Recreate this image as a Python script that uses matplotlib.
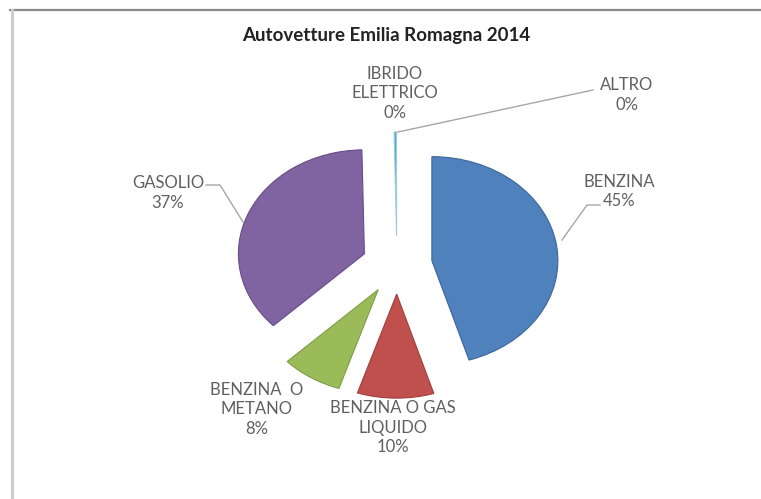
import matplotlib
matplotlib.use("Agg")
import matplotlib.pyplot as plt
from matplotlib.lines import Line2D

# dati
categorie = ["BENZINA", "BENZINA O GAS\nLIQUIDO", "BENZINA  O\nMETANO", "GASOLIO",
             "IBRIDO\nELETTRICO", "ALTRO"]
valori = [45.2, 9.8, 7.8, 36.8, 0.3, 0.02]
colori = ["#4F81BD", "#C0504D", "#9BBB59", "#8064A2", "#4BACC6", "#F79646"]
bordi = ["#3d6699", "#a03e3b", "#7f9c46", "#654e85", "#9ccbdc", "none"]

W, H = 761, 499
CX, CY, RX, RY = 397, 265, 126, 104   # centro e raggi in pixel (torta schiacciata)

# posizione etichette (pixel, centro prima riga) e linee guida
pos_etichette = [(619, 182), (393, 408), (257, 390), (168, 183), (395, 74), (627, 85)]
passo_riga = 19.5
linee_guida = [
    [(206, 185), (220, 185), (243, 222)],
    [(600, 205), (587, 205), (562, 240)],
    [(398, 132), (593, 90)],
]

FONT = "Lato"

fig = plt.figure(figsize=(W / 100, H / 100), dpi=100)
ax = fig.add_axes([0, 0, 1, 1])
ax.pie(valori, colors=colori, startangle=90, counterclock=False,
       explode=[0.28] * len(valori),
       wedgeprops=dict(linewidth=0.8))
for w, b in zip(ax.patches, bordi):
    w.set_edgecolor(b)
ax.patches[-1].set_visible(False)   # ALTRO: fetta invisibile
ax.set_aspect("auto")
ax.set_xlim((0 - CX) / RX, (W - CX) / RX)
ax.set_ylim((CY - H) / RY, CY / RY)
ax.axis("off")

def fx(x, y):
    return x / W, 1 - y / H

# titolo
fig.text(*fx(386, 35), "Autovetture Emilia Romagna 2014", ha="center", va="center",
         fontsize=13.5, fontweight="bold", family=FONT, color="#222222")

totale = sum(valori)
for nome, v, (x, y) in zip(categorie, valori, pos_etichette):
    righe = nome.split("\n") + [f"{round(v / totale * 100):.0f}%"]
    for i, r in enumerate(righe):
        fig.text(*fx(x, y + i * passo_riga), r, ha="center", va="center",
                 fontsize=12, family=FONT, color="#606060")

for pts in linee_guida:
    xs = [p[0] / W for p in pts]
    ys = [1 - p[1] / H for p in pts]
    fig.add_artist(Line2D(xs, ys, transform=fig.transFigure, color="#a6a6a6", lw=1))

# cornice
fig.add_artist(Line2D([10 / W, 1], [1 - 9.5 / H, 1 - 9.5 / H], transform=fig.transFigure,
                      color="#8c8c8c", lw=1.6))
fig.add_artist(Line2D([11.5 / W, 11.5 / W], [0, 1 - 9.5 / H], transform=fig.transFigure,
                      color="#cccccc", lw=2.2))

fig.savefig("out.png", dpi=100)
